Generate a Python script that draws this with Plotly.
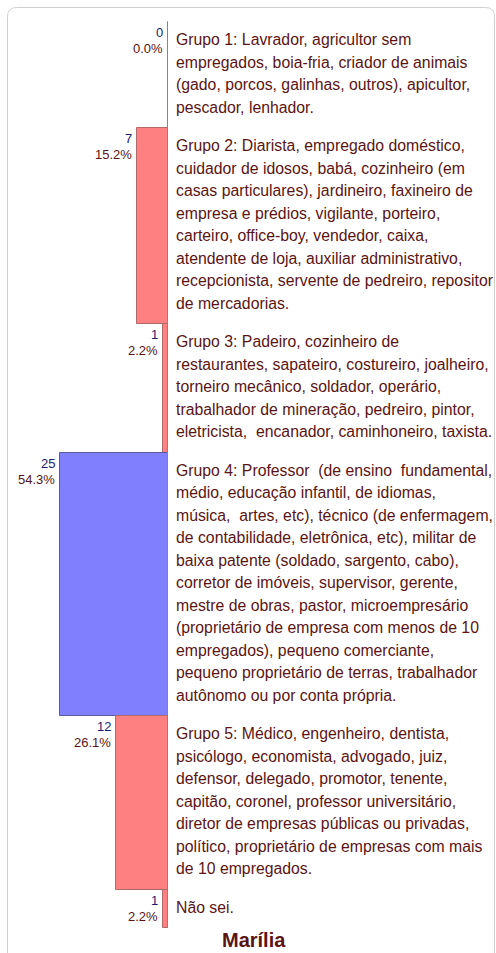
import plotly.graph_objects as go

# dados: Marília, grupos ocupacionais
counts = [0, 7, 1, 25, 12, 1]
group_lines = [
    ["Grupo 1: Lavrador, agricultor sem",
     "empregados, boia-fria, criador de animais",
     "(gado, porcos, galinhas, outros), apicultor,",
     "pescador, lenhador."],
    ["Grupo 2: Diarista, empregado doméstico,",
     "cuidador de idosos, babá, cozinheiro (em",
     "casas particulares), jardineiro, faxineiro de",
     "empresa e prédios, vigilante, porteiro,",
     "carteiro, office-boy, vendedor, caixa,",
     "atendente de loja, auxiliar administrativo,",
     "recepcionista, servente de pedreiro, repositor",
     "de mercadorias."],
    ["Grupo 3: Padeiro, cozinheiro de",
     "restaurantes, sapateiro, costureiro, joalheiro,",
     "torneiro mecânico, soldador, operário,",
     "trabalhador de mineração, pedreiro, pintor,",
     "eletricista,  encanador, caminhoneiro, taxista."],
    ["Grupo 4: Professor  (de ensino  fundamental,",
     "médio, educação infantil, de idiomas,",
     "música,  artes, etc), técnico (de enfermagem,",
     "de contabilidade, eletrônica, etc), militar de",
     "baixa patente (soldado, sargento, cabo),",
     "corretor de imóveis, supervisor, gerente,",
     "mestre de obras, pastor, microempresário",
     "(proprietário de empresa com menos de 10",
     "empregados), pequeno comerciante,",
     "pequeno proprietário de terras, trabalhador",
     "autônomo ou por conta própria."],
    ["Grupo 5: Médico, engenheiro, dentista,",
     "psicólogo, economista, advogado, juiz,",
     "defensor, delegado, promotor, tenente,",
     "capitão, coronel, professor universitário,",
     "diretor de empresas públicas ou privadas,",
     "político, proprietário de empresas com mais",
     "de 10 empregados."],
    ["Não sei."],
]
title = "Marília"

W, H = 496, 953
TOP = 22          # topo da primeira faixa (px)
LINE_H = 22.5     # altura de linha do texto
PAD = 8           # margem vertical de cada faixa
AXIS_PX = 167.5   # posição do eixo (px)
PX_PER = 4.29     # px por unidade

TEXT_COLOR = '#5a1414'
COUNT_COLOR = '#1c1c6e'
FONT = 'Arial, Liberation Sans, sans-serif'

total = sum(counts)
pcts = [100.0 * c / total for c in counts]
imax = counts.index(max(counts))

# faixas: altura proporcional ao número de linhas
tops, heights = [], []
y = TOP
for lines in group_lines:
    h = LINE_H * len(lines) + 2 * PAD
    tops.append(y)
    heights.append(h)
    y += h
bottom = y
centers = [t + h / 2 for t, h in zip(tops, heights)]

colors = ['#8080ff' if i == imax else '#ff8080' for i in range(len(counts))]
lines_col = ['#5a5aa0' if i == imax else '#b06a6a' for i in range(len(counts))]

fig = go.Figure(go.Bar(
    orientation='h',
    x=[-c for c in counts], y=centers, width=heights, base=0,
    marker=dict(color=colors, line=dict(color=lines_col, width=1)),
    hoverinfo='skip', showlegend=False,
))

annotations = []
for i, lines in enumerate(group_lines):
    y0 = tops[i] + PAD - 1.5
    for k, ln in enumerate(lines):
        annotations.append(dict(
            x=0, y=y0 + LINE_H * (k + 0.5), xref='x', yref='y',
            text=ln, showarrow=False, xanchor='left', yanchor='middle',
            xshift=6, font=dict(size=15.8, color=TEXT_COLOR, family=FONT),
        ))
    # rótulos: contagem e percentual
    annotations.append(dict(
        x=-counts[i], y=tops[i] + 10.5, xref='x', yref='y',
        text=str(counts[i]), showarrow=False, xanchor='right', yanchor='middle',
        xshift=-3, font=dict(size=13, color=COUNT_COLOR, family=FONT),
    ))
    annotations.append(dict(
        x=-counts[i], y=tops[i] + 26.5, xref='x', yref='y',
        text=f'{pcts[i]:.1f}%', showarrow=False, xanchor='right', yanchor='middle',
        xshift=-3, font=dict(size=13, color=TEXT_COLOR, family=FONT),
    ))

annotations.append(dict(
    x=253.5 / W, y=940, xref='paper', yref='y', text=f'<b>{title}</b>',
    showarrow=False, xanchor='center', yanchor='middle',
    font=dict(size=20, color=TEXT_COLOR, family=FONT),
))

# moldura arredondada (px)
bx0, bx1, by0, by1, r = 7.5 / W, 494.5 / W, 7.5, 980, 9
rx = r / W
border = (f'M {bx0 + rx},{by0} L {bx1 - rx},{by0} Q {bx1},{by0} {bx1},{by0 + r} '
          f'L {bx1},{by1} L {bx0},{by1} L {bx0},{by0 + r} Q {bx0},{by0} {bx0 + rx},{by0} Z')

shapes = [
    dict(type='path', path=border, xref='paper', yref='y',
         line=dict(color='#cfcfcf', width=1), fillcolor='rgba(0,0,0,0)', layer='below'),
    dict(type='line', x0=0, x1=0, y0=TOP, y1=bottom, xref='x', yref='y',
         line=dict(color='#a07a7a', width=1)),
]

fig.update_layout(
    width=W, height=H,
    margin=dict(l=0, r=0, t=0, b=0),
    paper_bgcolor='white', plot_bgcolor='white',
    bargap=0,
    xaxis=dict(range=[-AXIS_PX / PX_PER, (W - AXIS_PX) / PX_PER], visible=False, fixedrange=True),
    yaxis=dict(range=[H, 0], visible=False, fixedrange=True),
    annotations=annotations,
    shapes=shapes,
)

# sem margem da página, para o gráfico ocupar a janela inteira
page_css = ("document.documentElement.style.overflow='hidden';"
            "document.body.style.margin='0';document.body.style.overflow='hidden';")
fig.write_html("out.html", post_script=page_css, config={'displayModeBar': False})
